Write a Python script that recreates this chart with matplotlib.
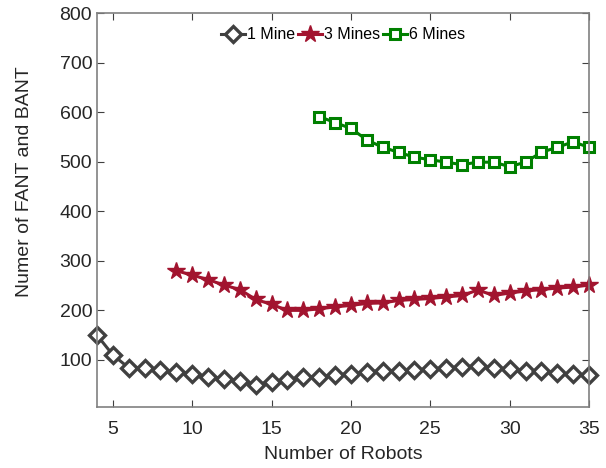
#!/usr/bin/env python3

import matplotlib
matplotlib.use('Agg')
import matplotlib.pyplot as plt

robots_1 = list(range(4, 36))
mine_1 = [150, 110, 84, 84, 80, 76, 72, 66, 62, 58, 50, 56, 60, 66, 66, 70,
          72, 76, 78, 78, 80, 82, 84, 86, 88, 84, 82, 78, 78, 73, 71, 70]

robots_3 = list(range(9, 36))
mine_3 = [280, 271, 262, 251, 242, 222, 212, 200, 200, 203, 207, 210, 214, 215,
          220, 222, 224, 227, 230, 241, 230, 235, 239, 242, 245, 247, 251]

robots_6 = list(range(18, 36))
mine_6 = [591, 579, 567, 544, 529, 519, 509, 504, 499, 494, 499, 499, 490, 499,
          519, 529, 540, 529]

y_ticks = list(range(100, 900, 100))
x_ticks = [5, 10, 15, 20, 25, 30, 35]


def main():
    plt.rcParams['font.family'] = ['Liberation Sans', 'DejaVu Sans']
    fig = plt.figure(figsize=(6.06, 4.68), dpi=100)
    ax = fig.add_axes([97 / 606, 1 - 407 / 468, (589 - 97) / 606, (407 - 13) / 468])

    ax.plot(robots_1, mine_1, '-D', color='#404040', lw=2.2, ms=8.5,
            mfc='white', mec='#404040', mew=2.4, label='1 Mine', clip_on=False)
    ax.plot(robots_3, mine_3, '-*', color='#A2142F', lw=2.2, ms=13,
            mfc='#A2142F', mec='#A2142F', label='3 Mines', clip_on=False)
    ax.plot(robots_6, mine_6, '-s', color='#008000', lw=2.2, ms=6.5,
            mfc='white', mec='#008000', mew=2.2, label='6 Mines', clip_on=False)

    ax.set_xlim(4, 35)
    ax.set_ylim(5, 800)
    ax.set_xticks(x_ticks)
    ax.set_yticks(y_ticks)
    ax.tick_params(direction='in', labelsize=14, labelcolor='#262626', length=5,
                   top=True, right=True, labeltop=False, labelright=False,
                   color='#404040')
    ax.tick_params(axis='x', pad=10)
    for s in ax.spines.values():
        s.set_color('#808080')
        s.set_linewidth(1.2)
    ax.set_xlabel('Number of Robots', fontsize=14, color='#262626', labelpad=6)
    ax.set_ylabel('Numer of FANT and BANT', fontsize=14, color='#262626')
    ax.yaxis.set_label_coords(-0.13, 0.571)

    ax.legend(loc='upper center', ncol=3, frameon=False, fontsize=11.5,
              handlelength=1.5, handletextpad=0.1, columnspacing=0.2,
              borderaxespad=0.5, bbox_to_anchor=(0.5, 1.0))

    fig.savefig('out.png', dpi=100)


if __name__ == '__main__':
    main()
